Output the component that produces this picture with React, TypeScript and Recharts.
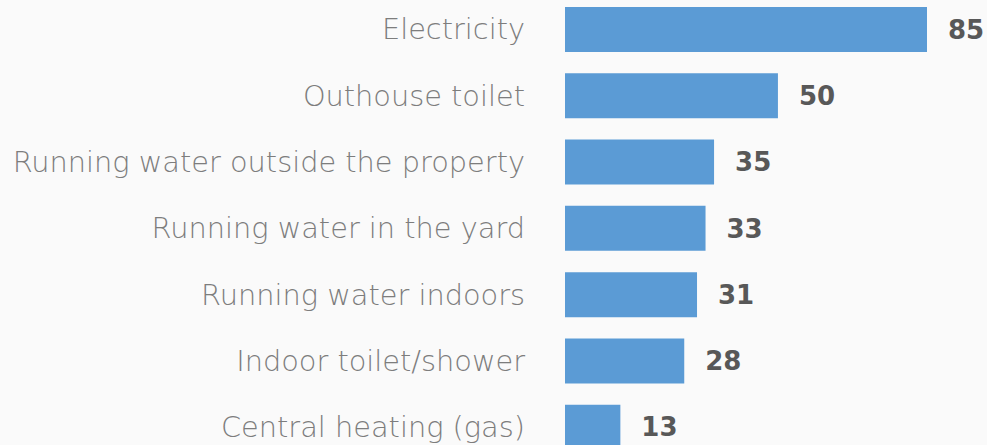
import React from "react";
import { Bar, BarChart, LabelList, XAxis, YAxis } from "recharts";

const categories = [
  "Electricity",
  "Outhouse toilet",
  "Running water outside the property",
  "Running water in the yard",
  "Running water indoors",
  "Indoor toilet/shower",
  "Central heating (gas)",
];
const values = [85, 50, 35, 33, 31, 28, 13];

const data = categories.map((name, i) => ({ name, value: values[i] }));

export default function App() {
  return (
    <div
      style={{
        position: "absolute",
        left: 0,
        top: 0,
        width: 987,
        height: 445,
        overflow: "hidden",
        background: "#fafafa",
      }}
    >
      <div style={{ position: "absolute", left: 0, top: -4 }}>
        <BarChart
          layout="vertical"
          width={987}
          height={464}
          data={data}
          margin={{ top: 0, right: 60, bottom: 0, left: 0 }}
          barSize={45}
        >
          <XAxis type="number" domain={[0, 85]} hide />
          <YAxis
            type="category"
            dataKey="name"
            width={565}
            axisLine={false}
            tickLine={false}
            tickSize={0}
            tickMargin={40}
            interval={0}
            tick={{ fill: "#7d7d7d", fontSize: 28.8, fontFamily: "DejaVu Sans", fontWeight: 200 }}
          />
          <Bar dataKey="value" fill="#5b9bd5" isAnimationActive={false}>
            <LabelList
              dataKey="value"
              position="right"
              offset={21}
              fill="#585858"
              fontSize={26}
              fontWeight={700}
              fontFamily="DejaVu Sans"
            />
          </Bar>
        </BarChart>
      </div>
    </div>
  );
}
